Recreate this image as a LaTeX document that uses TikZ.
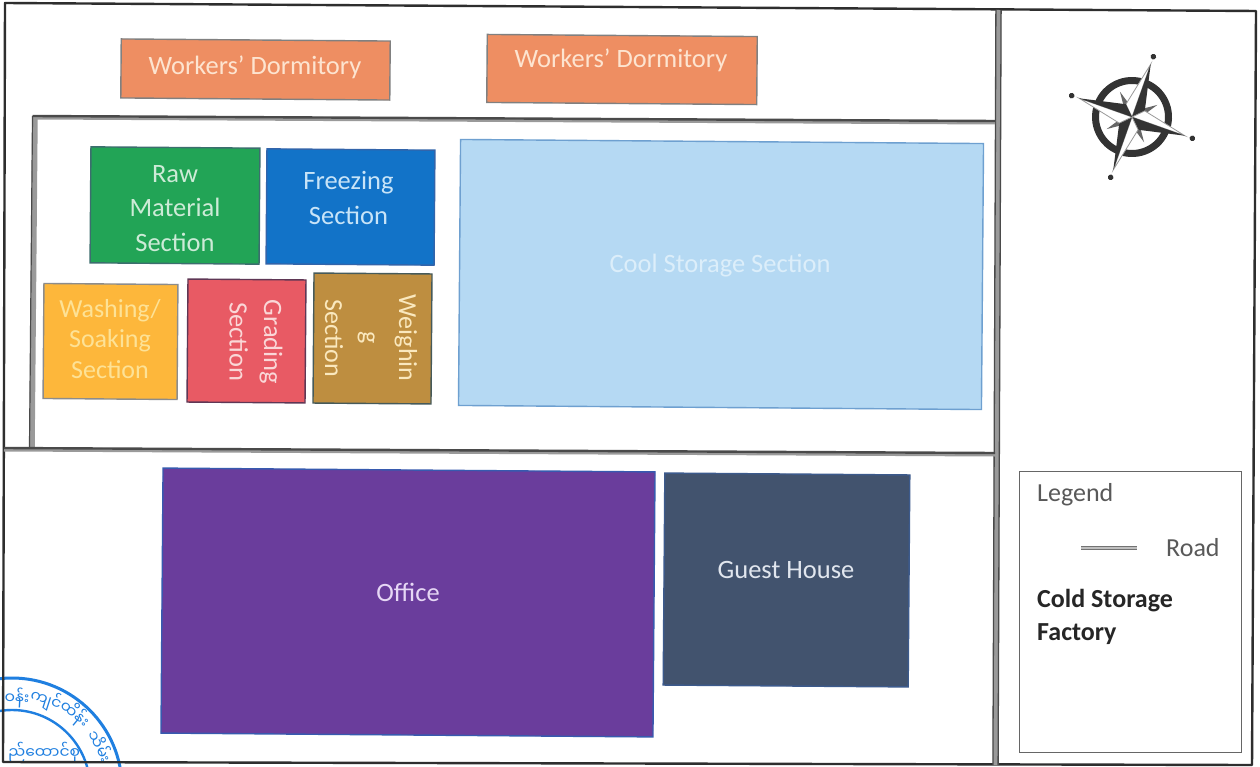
\documentclass[tikz,border=0pt]{standalone}
\usepackage{fontspec}
\setmainfont{Carlito}
\newfontfamily\mmfont[Script=Myanmar]{Noto Sans Myanmar UI}
\definecolor{frameink}{HTML}{2E2E2E}
\definecolor{roadgrey}{HTML}{9A9A9A}
\definecolor{roaddark}{HTML}{4A4A4A}
\definecolor{stampblue}{HTML}{1F7FE0}
\definecolor{compassink}{HTML}{333333}
\definecolor{starline}{HTML}{9A9A9A}
\tikzset{
  x=1pt,y=-1pt,
  framepath/.style={draw=frameink,line width=2.4pt,line join=round},
  roadwide/.style={draw=roadgrey,line width=5.5pt},
  roadedge/.style={draw=roaddark,line width=2.4pt},
  sect/.style={rectangle,inner sep=0pt,outer sep=0pt,rotate=-0.45,line width=1.4pt},
  sectext/.style={inner sep=0pt,font=\fontsize{26.5}{34.5}\selectfont,align=center},
  legendtxt/.style={inner sep=0pt,anchor=west,text=black!65,font=\fontsize{26}{30}\selectfont},
  legendbold/.style={inner sep=0pt,anchor=west,text=black!85,font=\bfseries\fontsize{26}{30}\selectfont},
  stamptxt/.style={inner sep=0pt,text=stampblue,font=\mmfont\fontsize{15.5}{18}\selectfont},
}
\begin{document}
\begin{tikzpicture}
\useasboundingbox (0,0) rectangle (1260,767);
\fill[white] (0,0) rectangle (1260,767);
% stamp
\begin{scope}
\clip (0,0) rectangle (1260,767);
\coordinate (stampc) at (12,788);
\draw[stampblue,line width=3pt] (stampc) circle[radius=110pt];
\draw[stampblue,line width=2.4pt] (stampc) circle[radius=78pt];
\node[stamptxt,rotate=-3] (s1) at (17,698) {ဝန်း};
\node[stamptxt,rotate=-18] (s2) at (46,700) {ကျင်};
\node[stamptxt,rotate=-40] (s3) at (75,714) {ထိန်း};
\node[stamptxt,rotate=-64] (s4) at (101,746) {သိမ်း};
\node[stamptxt,anchor=west] (s5) at (8,752) {ည်ထောင်စု};
\end{scope}
% roads and frame
\coordinate (ftl) at (5,3);
\coordinate (ftr) at (1256,11);
\coordinate (fbr) at (1252,765);
\coordinate (fbl) at (3,762);
\draw[framepath] (ftl) -- (ftr) -- (fbr) -- (fbl) -- cycle;
\coordinate (vt) at (998.5,10);
\coordinate (vb) at (995.5,765);
\draw[roadwide] (vt) -- (vb);
\draw[draw=roaddark,line width=1.3pt] ([xshift=-2.6pt]vt) -- ([xshift=-2.6pt]vb);
\draw[draw=roaddark,line width=1.3pt] ([xshift=2.6pt]vt) -- ([xshift=2.6pt]vb);
\coordinate (it) at (35,116);
\coordinate (ib) at (32,447);
\coordinate (ir) at (995,121);
\coordinate (ml) at (4,448);
\coordinate (mr) at (995,453);
\draw[roadwide] ([xshift=0pt]it) -- (ib);
\draw[draw=roaddark,line width=1.2pt] ([xshift=-2.5pt]it) -- ([xshift=-2.5pt]ib);
\draw[roadwide,line width=4pt] ([yshift=-1.5pt]it) -- ([yshift=-1.5pt]ir);
\draw[roadedge] ([xshift=-2.5pt]it) -- (ir);
\draw[roadwide,line width=4pt] ([yshift=-1.5pt]ml) -- ([yshift=-1.5pt]mr);
\draw[roadedge] (ml) -- (mr);
% sections
\node[sect,draw=black!50,fill={rgb,255:red,238;green,142;blue,98},minimum width=269pt,minimum height=59pt] (wd1) at (255.5,69.5) {};
\node[sectext,text={rgb,255:red,253;green,228;blue,208}] (wd1t) at (255,67) {Workers’ Dormitory};
\node[sect,draw=black!50,fill={rgb,255:red,238;green,142;blue,98},minimum width=270pt,minimum height=68pt] (wd2) at (622,69.5) {};
\node[sectext,text={rgb,255:red,253;green,228;blue,208}] (wd2t) at (621,60) {Workers’ Dormitory};
\node[sect,draw={rgb,255:red,60;green,110;blue,110},fill={rgb,255:red,34;green,164;blue,86},minimum width=169pt,minimum height=116pt] (raw) at (175,205.5) {};
\node[sectext,text={rgb,255:red,205;green,235;blue,215}] (rawt) at (175,208.5) {Raw\\Material\\Section};
\node[sect,draw={rgb,255:red,50;green,100;blue,170},fill={rgb,255:red,18;green,115;blue,200},minimum width=168pt,minimum height=115pt] (frz) at (350.5,207) {};
\node[sectext,text={rgb,255:red,200;green,228;blue,248}] (frzt) at (348.5,198) {Freezing\\Section};
\node[sect,draw=black!45,fill={rgb,255:red,253;green,183;blue,59},minimum width=134pt,minimum height=115pt] (wsh) at (110.5,341.5) {};
\node[sectext,text={rgb,255:red,253;green,226;blue,150},font=\fontsize{26}{30.5}\selectfont] (wsht) at (110,339) {Washing/\\Soaking\\Section};
\node[sect,draw={rgb,255:red,95;green,55;blue,85},fill={rgb,255:red,232;green,90;blue,100},minimum width=118pt,minimum height=123pt] (grd) at (246.5,341) {};
\node[sectext,rotate=-90,text={rgb,255:red,250;green,215;blue,215}] (grdt) at (256,342) {Grading\\Section};
\node[sect,draw={rgb,255:red,70;green,90;blue,90},fill={rgb,255:red,190;green,142;blue,64},minimum width=118pt,minimum height=130pt] (wgh) at (372.5,338.5) {};
\node[sectext,rotate=-90,text={rgb,255:red,250;green,232;blue,190},font=\fontsize{26}{37}\selectfont] (wght) at (371,338) {Weighin\\g\\Section};
\node[sect,draw={rgb,255:red,110;green,160;blue,208},fill={rgb,255:red,181;green,217;blue,243},minimum width=523pt,minimum height=266pt] (cool) at (721,274.5) {};
\node[sectext,text={rgb,255:red,220;green,238;blue,250}] (coolt) at (720,266) {Cool Storage Section};
\node[sect,draw={rgb,255:red,55;green,90;blue,175},fill={rgb,255:red,106;green,61;blue,156},minimum width=492pt,minimum height=265pt] (off) at (408,602.5) {};
\node[sectext,text={rgb,255:red,230;green,215;blue,245}] (offt) at (408,592) {Office};
\node[sect,draw={rgb,255:red,60;green,90;blue,140},fill={rgb,255:red,66;green,83;blue,110},minimum width=245pt,minimum height=212pt] (gst) at (786.5,580) {};
\node[sectext,text={rgb,255:red,225;green,230;blue,238}] (gstt) at (786,570) {Guest House};
% compass
\begin{scope}[shift={(1132,117)},rotate=-19.5,x=1pt,y=1pt]
\foreach \a in {0,90,180,270}{
  \draw[rotate=-\a-45,fill=black!60,draw=none] (0,0) -- (3.5,10) -- (0,28) -- (-3.5,10) -- cycle;
}
\draw[compassink,line width=7pt] (0,0) circle[radius=36.5pt];
\foreach \a in {0,90,180,270}{
  \begin{scope}[rotate=-\a]
  \fill[white] (0,0) -- (0,56) -- (-10,10) -- cycle;
  \draw[starline,line width=0.8pt] (0,0) -- (0,56) -- (-10,10) -- cycle;
  \fill[compassink] (0,0) -- (0,56) -- (10,10) -- cycle;
  \fill[compassink] (0,64) circle[radius=2.8pt];
  \end{scope}
}
\end{scope}
% legend
\node[draw=black!60,line width=1pt,fill=white,inner sep=0pt,minimum width=222pt,minimum height=281pt] (leg) at (1130,611.5) {};
\node[legendtxt] (lg) at (1037,495) {Legend};
\coordinate (la) at (1081,548);
\coordinate (lb) at (1137,548);
\draw[draw=black!55,double=black!25,line width=1.2pt,double distance=2pt] (la) -- (lb);
\node[legendtxt] (rd) at (1166,548) {Road};
\node[legendbold] (c1) at (1037,601) {Cold Storage};
\node[legendbold] (c2) at (1037,634) {Factory};
\end{tikzpicture}
\end{document}
